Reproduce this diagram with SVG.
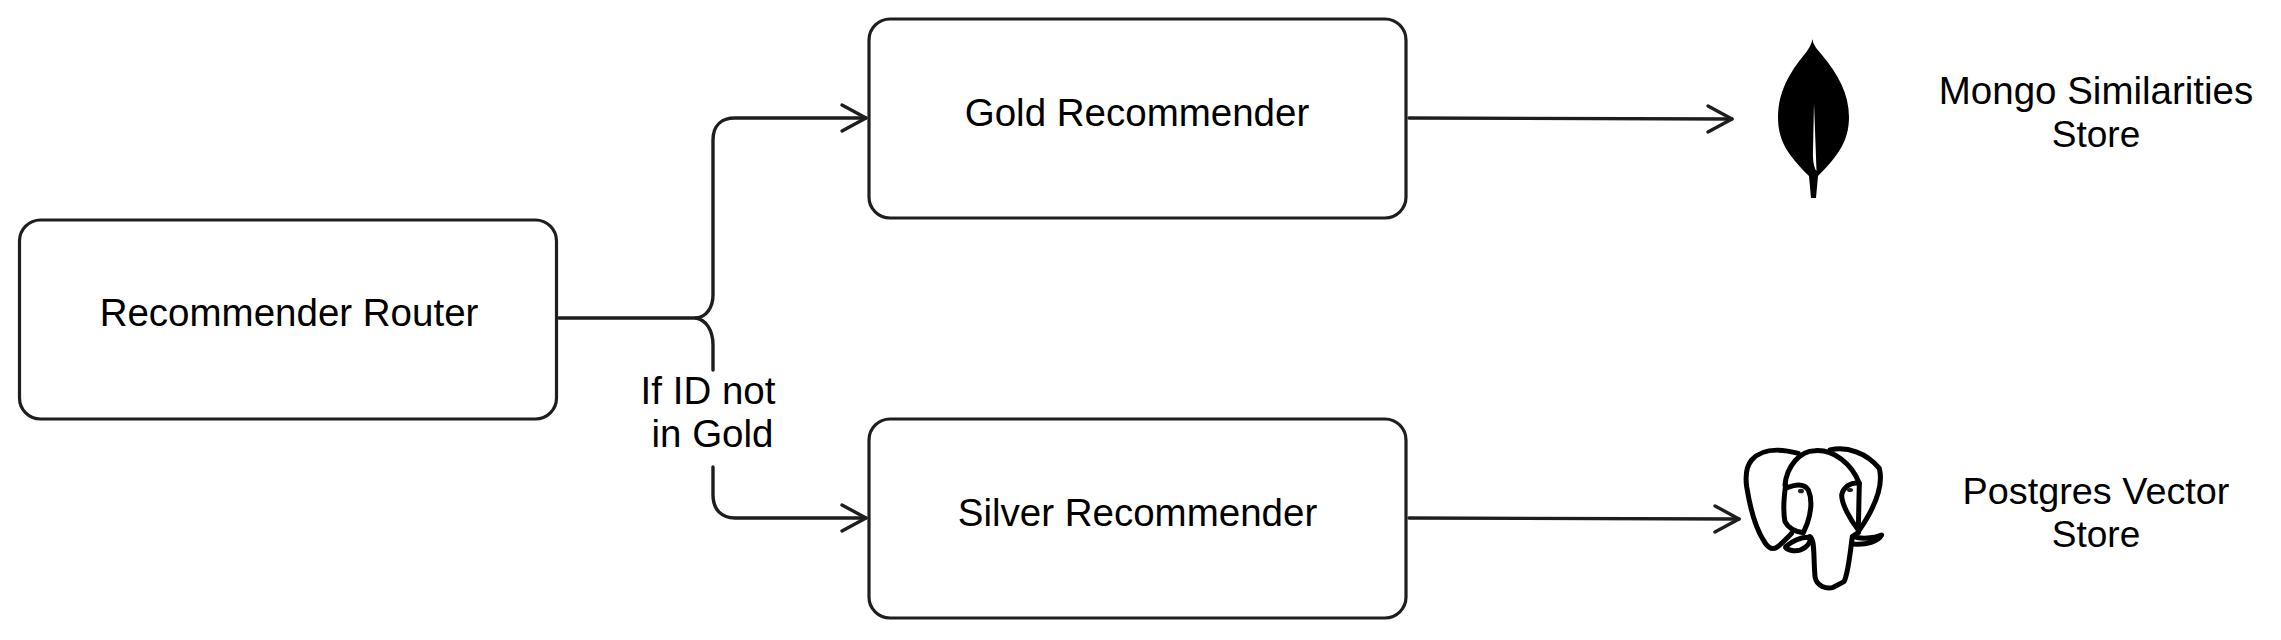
<svg xmlns="http://www.w3.org/2000/svg" width="2281" height="640" viewBox="0 0 2281 640">
<defs>
<style>
.box{fill:#fff;stroke:#1e1e1e;stroke-width:3.2}
.lbl{font-family:"Liberation Sans",Arial,sans-serif;font-size:38.500px;fill:#000;text-anchor:middle}
.store{font-size:37px}
.pgname{font-size:37.800px}
.conn{fill:none;stroke:#1e1e1e;stroke-width:3.4;stroke-linecap:round;stroke-linejoin:round;marker-end:url(#arrow)}
.pg{fill:none;stroke:#000;stroke-width:15;stroke-linecap:round;stroke-linejoin:round}
</style>
<marker id="arrow" markerUnits="userSpaceOnUse" markerWidth="34" markerHeight="34" refX="28" refY="15" orient="auto" overflow="visible">
<path d="M4 2L28 15L4 28" fill="none" stroke="#1e1e1e" stroke-width="3.400" stroke-linecap="round" stroke-linejoin="round"/>
</marker>
</defs>
<rect width="2281" height="640" fill="#fff"/>
<g id="connectors">
<path class="conn" d="M559 318L696 318C706 317 713 308 713 295L713 140C713 125 722 118 735 118L866 118"/>
<path class="conn" d="M696 318C706 320 713 330 713 345L713 370M713 467L713 495C713 510 722 518 735 518L866 518"/>
<path class="conn" d="M1409 118L1732 119"/>
<path class="conn" d="M1409 518L1739 519"/>
</g>
<g id="router"><rect class="box" x="19.500" y="220" width="537" height="199" rx="21"/><text class="lbl" x="289" y="326">Recommender Router</text></g>
<g id="gold"><rect class="box" x="869" y="19" width="537" height="199" rx="21"/><text class="lbl" x="1137" y="126">Gold Recommender</text></g>
<g id="silver"><rect class="box" x="869" y="419" width="537" height="199" rx="21"/><text class="lbl" x="1137.500" y="526">Silver Recommender</text></g>
<g id="branch-label"><text class="lbl" x="708" y="404">If ID not</text><text class="lbl" x="712.500" y="447">in Gold</text></g>
<g id="mongo">
<path fill="#000" d="M1812.500 39C1813 45 1817 49 1822 55C1838 74 1849 94 1849 117C1849 141 1838 156 1818 176L1816 198L1811 198L1809 176C1788 155 1778 141 1778 117C1778 92 1790 72 1804 55C1808 50 1811 46 1812.500 39Z"/>
<path fill="#fff" d="M1814 103L1816.500 171C1814 168 1812.500 160 1813 150Z"/>
<text class="lbl" x="2096" y="104">Mongo Similarities</text><text class="lbl store" x="2096" y="147">Store</text>
</g>
<g id="postgres">
<g transform="translate(1720 430) scale(.3333)">
<path class="pg" d="M235 70C190 58 130 50 95 90C78 110 76 140 80 170C88 220 105 290 130 330C140 350 155 362 170 352C185 342 200 325 215 310"/>
<path class="pg" d="M195 165C200 110 240 62 285 62C340 58 395 100 418 160L415 300"/>
<path class="pg" d="M330 60C380 48 440 68 478 115C492 170 460 240 415 305"/>
<path class="pg" d="M197 175C220 165 250 155 265 180C278 210 275 240 262 280L250 308C225 305 205 295 195 275C188 240 192 200 197 165"/>
<path class="pg" d="M418 160C395 155 370 170 365 195C365 225 395 275 415 300"/>
<path class="pg" d="M197 350C215 335 240 320 270 322C275 345 245 365 220 362C205 360 195 355 197 350Z"/>
<path class="pg" d="M400 320C425 328 460 325 485 315C475 335 440 345 400 342"/>
<path class="pg" d="M270 320C285 330 280 380 285 440C290 470 320 478 340 472L372 455C385 430 390 370 397 320L415 308"/>
<ellipse cx="243" cy="183" rx="9" ry="7" fill="#222"/><ellipse cx="390" cy="180" rx="9" ry="6" fill="#222"/>
</g>
<text class="lbl pgname" x="2096" y="504">Postgres Vector</text><text class="lbl store" x="2096" y="547">Store</text>
</g>
</svg>
